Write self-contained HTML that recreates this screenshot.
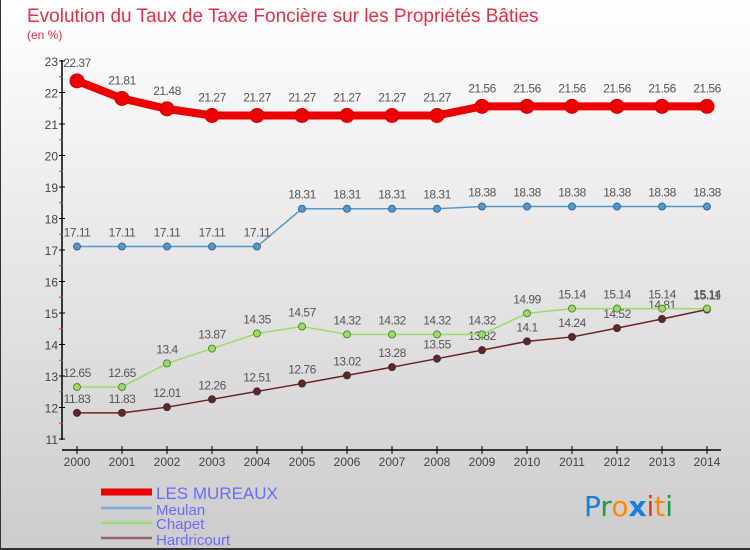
<!DOCTYPE html>
<html><head><meta charset="utf-8"><style>
body{margin:0;}
#c{width:750px;height:550px;position:relative;background:linear-gradient(#ffffff,#cccccc);font-family:"Liberation Sans",sans-serif;overflow:hidden;border-left:1px solid #333;border-bottom:2px solid #333;box-sizing:border-box;}
</style></head><body>
<div id="c">
<svg id="s" width="750" height="550" style="position:absolute;left:0;top:0">
<text x="26" y="22" font-size="19" fill="#e0304a">Evolution du Taux de Taxe Foncière sur les Propriétés Bâties</text>
<text x="26" y="39" font-size="12" fill="#e0304a">(en %)</text>
<g id="ax"></g><g id="series"></g>
<g>
<line x1="100" y1="492" x2="151" y2="492" stroke="#ee0000" stroke-width="7"/>
<text x="155" y="499" font-size="17" fill="#6a6aff">LES MUREAUX</text>
<line x1="100" y1="508" x2="151" y2="508" stroke="#7aaee0" stroke-width="2.5"/>
<text x="155" y="515" font-size="15" fill="#6a6aff">Meulan</text>
<line x1="100" y1="523" x2="151" y2="523" stroke="#99dd77" stroke-width="2.5"/>
<text x="155" y="529" font-size="15" fill="#6a6aff">Chapet</text>
<line x1="100" y1="538" x2="151" y2="538" stroke="#996666" stroke-width="2.5"/>
<text x="155" y="545" font-size="15" fill="#6a6aff">Hardricourt</text>
</g>
<g font-size="28" font-family="'DejaVu Sans',sans-serif">
<text x="583" y="516"><tspan fill="#1a7fd8">P</tspan><tspan fill="#229944">r</tspan><tspan fill="#ff8800">o</tspan><tspan fill="#1a7fd8" font-weight="bold">x</tspan><tspan fill="#ee3311">i</tspan><tspan fill="#ff8800">t</tspan><tspan fill="#229944">i</tspan></text>
</g>
</svg>
</div>
<script>
const years=[2000,2001,2002,2003,2004,2005,2006,2007,2008,2009,2010,2011,2012,2013,2014];
const mureaux=[22.37,21.81,21.48,21.27,21.27,21.27,21.27,21.27,21.27,21.56,21.56,21.56,21.56,21.56,21.56];
const meulan=[17.11,17.11,17.11,17.11,17.11,18.31,18.31,18.31,18.31,18.38,18.38,18.38,18.38,18.38,18.38];
const chapet=[12.65,12.65,13.4,13.87,14.35,14.57,14.32,14.32,14.32,14.32,14.99,15.14,15.14,15.14,15.14];
const hardricourt=[11.83,11.83,12.01,12.26,12.51,12.76,13.02,13.28,13.55,13.82,14.1,14.24,14.52,14.81,15.11];
const yTicks=[11,12,13,14,15,16,17,18,19,20,21,22,23];
const NS="http://www.w3.org/2000/svg";
const X=i=>76+i*45;
const Y=v=>61+(23-v)*31.5;
function mk(t,a,p){const e=document.createElementNS(NS,t);for(const k in a)e.setAttribute(k,a[k]);p.appendChild(e);return e;}
const ax=document.getElementById('ax');
const yl=mk('line',{x1:61,y1:60,x2:61,y2:440,stroke:'#000','stroke-width':1.5},ax);


yTicks.forEach(v=>{
 mk('line',{x1:58,y1:Y(v),x2:64,y2:Y(v),stroke:'#000'},ax);
 if(v<23)mk('line',{x1:58,y1:Y(v+0.5),x2:62,y2:Y(v+0.5),stroke:'#e33'},ax);
 const t=mk('text',{x:57,y:Y(v)+5,'text-anchor':'end','font-size':12,fill:'#444'},ax);
 t.textContent=v;
 
 
});
const xl=mk('line',{x1:61,y1:450,x2:720,y2:450,stroke:'#000','stroke-width':1.5},ax);


years.forEach((yr,i)=>{
 mk('line',{x1:X(i),y1:446,x2:X(i),y2:454,stroke:'#000'},ax);
 const t=mk('text',{x:X(i),y:466,'text-anchor':'middle','font-size':12,fill:'#444'},ax);
 t.textContent=yr;
 
 
});
const sg=document.getElementById('series');
function draw(vals,color,w,r,name,dark){
 const g=mk('g',{},sg);
 
 
 const l=mk('polyline',{points:vals.map((v,i)=>X(i)+','+Y(v)).join(' '),fill:'none',stroke:color,'stroke-width':w,'stroke-linejoin':'round'},g);
 
 
 vals.forEach((v,i)=>{
  const c=mk('circle',{cx:X(i),cy:Y(v),r:r,fill:color,stroke:dark,'stroke-width':1},g);
  
  
  const t=mk('text',{x:X(i),y:Y(v)-10-(r>5?4:0),'text-anchor':'middle','font-size':12,fill:'#555','letter-spacing':'-0.5'},g);
  t.textContent=v;
  
  
 });
}
draw(hardricourt,'#6b2222',1.5,3.5,'hardricourt','#333');
draw(chapet,'#99dd66',1.5,3.5,'chapet','#558833');
draw(meulan,'#5599cc',1.5,3.5,'meulan','#336699');
draw(mureaux,'#ee0000',8,7,'les-mureaux','#cc0000');
</script>
</body></html>
